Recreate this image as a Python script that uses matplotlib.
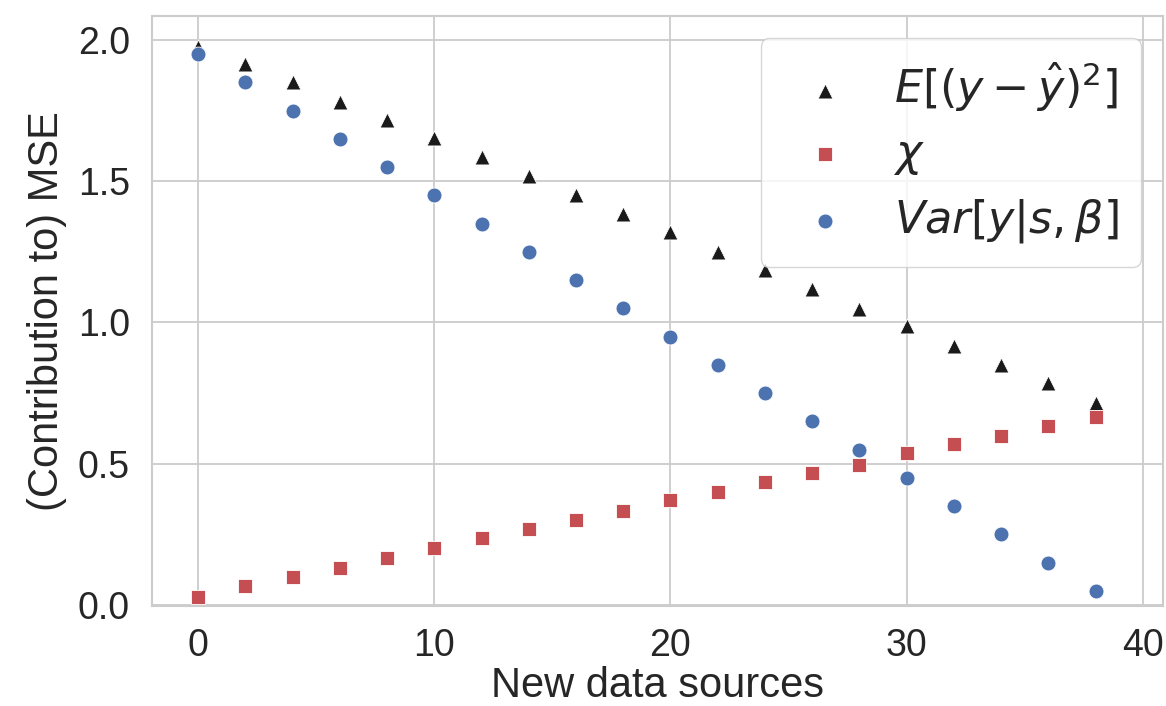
import matplotlib
matplotlib.use('Agg')
import matplotlib.pyplot as plt
import seaborn as sns

# ── Data ──────────────────────────────────────────────────────────────────────
n_sources = [0, 2, 4, 6, 8, 10, 12, 14, 16, 18, 20, 22, 24, 26, 28, 30, 32, 34, 36, 38]
mse_total = [1.975, 1.915, 1.852, 1.780, 1.716, 1.652, 1.585, 1.518, 1.452, 1.383,
             1.320, 1.250, 1.184, 1.118, 1.047, 0.987, 0.917, 0.849, 0.785, 0.715]
chi_term  = [0.028, 0.067, 0.100, 0.131, 0.166, 0.200, 0.237, 0.268, 0.300, 0.332,
             0.370, 0.400, 0.435, 0.466, 0.496, 0.537, 0.569, 0.598, 0.633, 0.664]
var_term  = [1.95, 1.85, 1.75, 1.65, 1.55, 1.45, 1.35, 1.25, 1.15, 1.05,
             0.95, 0.85, 0.75, 0.65, 0.55, 0.45, 0.35, 0.25, 0.15, 0.05]

labels = [r'$E[(y-\hat{y})^2]$', r'$\chi$', r'$Var[y|s,\beta]$']

# ── Style ─────────────────────────────────────────────────────────────────────
sns.set_theme(style='whitegrid')
plt.rcParams['font.family'] = ['Liberation Sans', 'DejaVu Sans']
plt.rcParams['mathtext.fontset'] = 'dejavusans'

fig = plt.figure(figsize=(11.66, 7.06), dpi=100)
ax = fig.add_axes([0.1304, 0.1416, 0.867, 0.8357])

kw = dict(s=115, edgecolor='white', linewidth=0.6, zorder=3)
ax.scatter(n_sources, mse_total, marker='^', color='#1a1a1a', label=labels[0], **kw)
ax.scatter(n_sources, chi_term, marker='s', color='#c44e52', label=labels[1], **kw)
ax.scatter(n_sources, var_term, marker='o', color='#4c72b0', label=labels[2], **kw)

ax.set_xlim(-1.95, 40.85)
ax.set_ylim(-0.004, 2.085)
ax.set_xticks([0, 10, 20, 30, 40])
ax.set_yticks([0.0, 0.5, 1.0, 1.5, 2.0])
ax.tick_params(labelsize=27, pad=10, colors='#262626')
ax.grid(color='#cccccc', linewidth=1.3)
for sp in ax.spines.values():
    sp.set_color('#cccccc')
    sp.set_linewidth(1.5)

ax.set_xlabel('New data sources', fontsize=30, color='#262626', labelpad=1)
ax.set_ylabel('(Contribution to) MSE', fontsize=30, color='#262626', labelpad=8)

ax.legend(loc='upper right', fontsize=32, scatterpoints=1, framealpha=0.8,
          edgecolor='#cccccc', handlelength=1.9, handletextpad=0.6,
          labelspacing=0.45, borderpad=0.5, borderaxespad=0.5)

fig.savefig('out.png', dpi=100)
